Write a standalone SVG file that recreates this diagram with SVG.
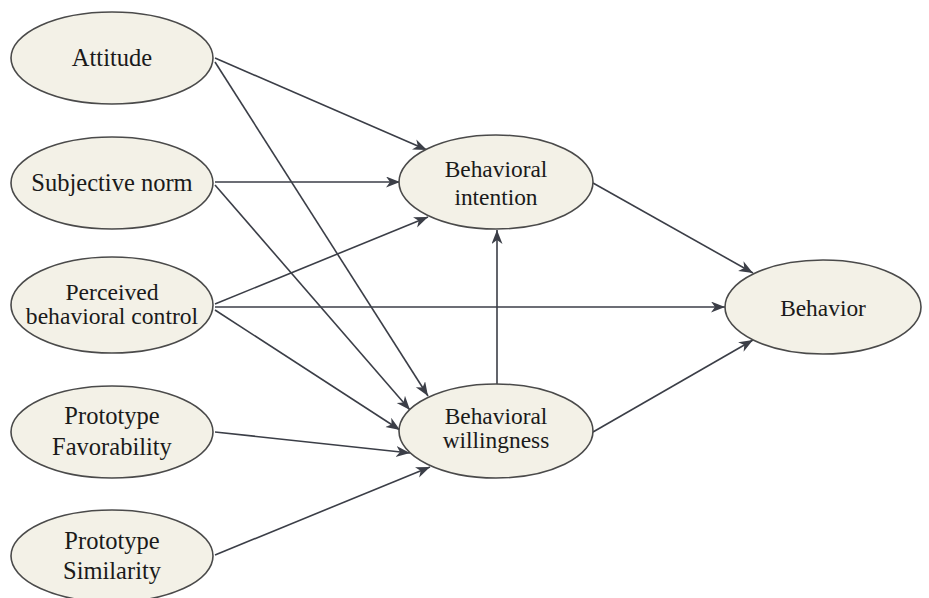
<svg xmlns="http://www.w3.org/2000/svg" width="929" height="598" viewBox="0 0 929 598">
<defs>
<marker id="arr" markerUnits="userSpaceOnUse" markerWidth="16" markerHeight="12" refX="14" refY="5.5" orient="auto">
<path d="M0,0 L14,5.5 L0,11 L4,5.5 z" fill="#3b3e47"/>
</marker>
</defs>
<style>
.n ellipse{fill:#f3f1e7;stroke:#4a4a4a;stroke-width:1.6}
.n text{font-family:'Liberation Serif','DejaVu Serif',serif;font-size:23.4px;fill:#1a1a1a;text-anchor:middle}
.l text{font-size:24.5px}
#perceived-control text{font-size:23.6px}
#edges line{stroke:#3b3e47;stroke-width:1.6;marker-end:url(#arr)}
</style>
<rect width="929" height="598" fill="#ffffff"/>
<g id="edges">
<line x1="215" y1="58" x2="427" y2="150"/>
<line x1="215" y1="62" x2="428" y2="396"/>
<line x1="215" y1="182" x2="400" y2="182"/>
<line x1="215" y1="185" x2="410" y2="410"/>
<line x1="215" y1="304" x2="428" y2="217"/>
<line x1="215" y1="307" x2="725" y2="307"/>
<line x1="215" y1="310" x2="400" y2="430"/>
<line x1="215" y1="432" x2="410" y2="453"/>
<line x1="215" y1="555" x2="430" y2="467"/>
<line x1="593" y1="183" x2="753" y2="273"/>
<line x1="497" y1="385" x2="497" y2="230"/>
<line x1="593" y1="432" x2="753" y2="340"/>
</g>
<g id="attitude" class="n l"><ellipse cx="112" cy="58" rx="101" ry="46"/><text x="112" y="66">Attitude</text></g>
<g id="subjective-norm" class="n l"><ellipse cx="112" cy="183" rx="101" ry="46"/><text x="112" y="191">Subjective norm</text></g>
<g id="perceived-control" class="n l"><ellipse cx="112" cy="305" rx="101" ry="48"/><text x="112" y="300">Perceived</text><text x="112" y="324">behavioral control</text></g>
<g id="prototype-favorability" class="n l"><ellipse cx="112" cy="432" rx="101" ry="46"/><text x="112" y="424">Prototype</text><text x="112" y="455">Favorability</text></g>
<g id="prototype-similarity" class="n l"><ellipse cx="112" cy="556" rx="101" ry="46"/><text x="112" y="549">Prototype</text><text x="112" y="579">Similarity</text></g>
<g id="behavioral-intention" class="n"><ellipse cx="496" cy="182" rx="97" ry="47"/><text x="496" y="177">Behavioral</text><text x="496" y="205">intention</text></g>
<g id="behavioral-willingness" class="n"><ellipse cx="496" cy="431" rx="97" ry="47"/><text x="496" y="424">Behavioral</text><text x="496" y="448">willingness</text></g>
<g id="behavior" class="n"><ellipse cx="823" cy="307" rx="98" ry="47"/><text x="823" y="316">Behavior</text></g>
</svg>
